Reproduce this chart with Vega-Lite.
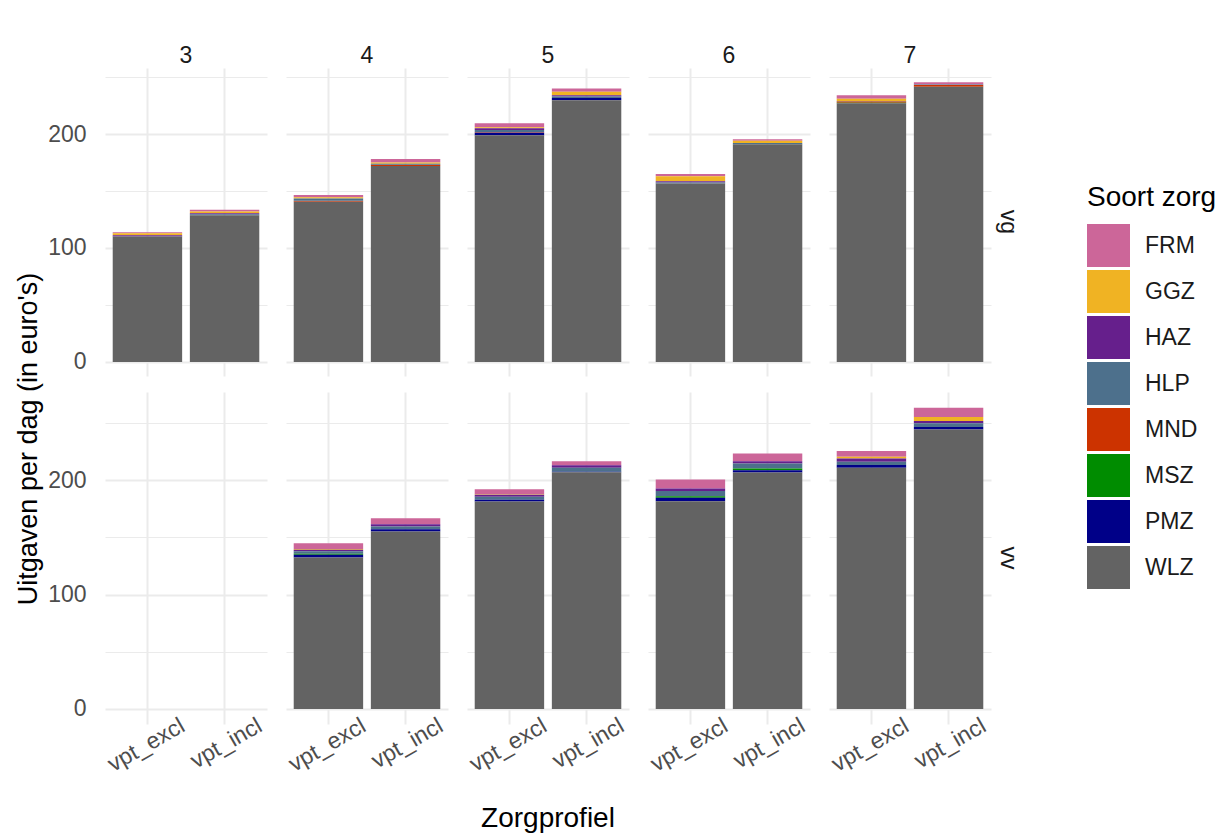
{
  "$schema": "https://vega.github.io/schema/vega-lite/v6.json",
  "background": "white",
  "padding": {"left": 14, "top": 45, "right": 5, "bottom": 5},
  "config": {
    "font": "Liberation Sans",
    "view": {"stroke": null},
    "axis": {"labelFont": "Liberation Sans", "titleFont": "Liberation Sans"}
  },
  "title": {"text": "Uitgaven per dag (in euro's)", "orient": "left", "anchor": "middle", "fontSize": 27, "fontWeight": "normal", "color": "black", "font": "Liberation Sans", "offset": 5},
  "data": {"values": [
    {"zorgtype": "vg", "profiel": 3, "vpt": "vpt_excl", "zorg": "FRM", "waarde": 0.9},
    {"zorgtype": "vg", "profiel": 3, "vpt": "vpt_excl", "zorg": "GGZ", "waarde": 1.8},
    {"zorgtype": "vg", "profiel": 3, "vpt": "vpt_excl", "zorg": "HAZ", "waarde": 1.2},
    {"zorgtype": "vg", "profiel": 3, "vpt": "vpt_excl", "zorg": "WLZ", "waarde": 110},
    {"zorgtype": "vg", "profiel": 3, "vpt": "vpt_incl", "zorg": "FRM", "waarde": 1.5},
    {"zorgtype": "vg", "profiel": 3, "vpt": "vpt_incl", "zorg": "GGZ", "waarde": 1.5},
    {"zorgtype": "vg", "profiel": 3, "vpt": "vpt_incl", "zorg": "HAZ", "waarde": 0.8},
    {"zorgtype": "vg", "profiel": 3, "vpt": "vpt_incl", "zorg": "HLP", "waarde": 1},
    {"zorgtype": "vg", "profiel": 3, "vpt": "vpt_incl", "zorg": "WLZ", "waarde": 128.7},
    {"zorgtype": "vg", "profiel": 4, "vpt": "vpt_excl", "zorg": "FRM", "waarde": 2},
    {"zorgtype": "vg", "profiel": 4, "vpt": "vpt_excl", "zorg": "GGZ", "waarde": 1},
    {"zorgtype": "vg", "profiel": 4, "vpt": "vpt_excl", "zorg": "MND", "waarde": 1},
    {"zorgtype": "vg", "profiel": 4, "vpt": "vpt_excl", "zorg": "HLP", "waarde": 2},
    {"zorgtype": "vg", "profiel": 4, "vpt": "vpt_excl", "zorg": "WLZ", "waarde": 140.5},
    {"zorgtype": "vg", "profiel": 4, "vpt": "vpt_incl", "zorg": "FRM", "waarde": 3},
    {"zorgtype": "vg", "profiel": 4, "vpt": "vpt_incl", "zorg": "GGZ", "waarde": 1},
    {"zorgtype": "vg", "profiel": 4, "vpt": "vpt_incl", "zorg": "MND", "waarde": 1},
    {"zorgtype": "vg", "profiel": 4, "vpt": "vpt_incl", "zorg": "HLP", "waarde": 1},
    {"zorgtype": "vg", "profiel": 4, "vpt": "vpt_incl", "zorg": "WLZ", "waarde": 172},
    {"zorgtype": "vg", "profiel": 5, "vpt": "vpt_excl", "zorg": "FRM", "waarde": 3.5},
    {"zorgtype": "vg", "profiel": 5, "vpt": "vpt_excl", "zorg": "GGZ", "waarde": 1},
    {"zorgtype": "vg", "profiel": 5, "vpt": "vpt_excl", "zorg": "HAZ", "waarde": 1.5},
    {"zorgtype": "vg", "profiel": 5, "vpt": "vpt_excl", "zorg": "HLP", "waarde": 2},
    {"zorgtype": "vg", "profiel": 5, "vpt": "vpt_excl", "zorg": "MND", "waarde": 0.5},
    {"zorgtype": "vg", "profiel": 5, "vpt": "vpt_excl", "zorg": "PMZ", "waarde": 2},
    {"zorgtype": "vg", "profiel": 5, "vpt": "vpt_excl", "zorg": "WLZ", "waarde": 199},
    {"zorgtype": "vg", "profiel": 5, "vpt": "vpt_incl", "zorg": "FRM", "waarde": 3},
    {"zorgtype": "vg", "profiel": 5, "vpt": "vpt_incl", "zorg": "GGZ", "waarde": 3},
    {"zorgtype": "vg", "profiel": 5, "vpt": "vpt_incl", "zorg": "HAZ", "waarde": 1},
    {"zorgtype": "vg", "profiel": 5, "vpt": "vpt_incl", "zorg": "HLP", "waarde": 1.5},
    {"zorgtype": "vg", "profiel": 5, "vpt": "vpt_incl", "zorg": "PMZ", "waarde": 2},
    {"zorgtype": "vg", "profiel": 5, "vpt": "vpt_incl", "zorg": "WLZ", "waarde": 229.5},
    {"zorgtype": "vg", "profiel": 6, "vpt": "vpt_excl", "zorg": "FRM", "waarde": 2},
    {"zorgtype": "vg", "profiel": 6, "vpt": "vpt_excl", "zorg": "GGZ", "waarde": 4.5},
    {"zorgtype": "vg", "profiel": 6, "vpt": "vpt_excl", "zorg": "HAZ", "waarde": 1},
    {"zorgtype": "vg", "profiel": 6, "vpt": "vpt_excl", "zorg": "HLP", "waarde": 1},
    {"zorgtype": "vg", "profiel": 6, "vpt": "vpt_excl", "zorg": "WLZ", "waarde": 156.5},
    {"zorgtype": "vg", "profiel": 6, "vpt": "vpt_incl", "zorg": "FRM", "waarde": 1.5},
    {"zorgtype": "vg", "profiel": 6, "vpt": "vpt_incl", "zorg": "GGZ", "waarde": 2},
    {"zorgtype": "vg", "profiel": 6, "vpt": "vpt_incl", "zorg": "HLP", "waarde": 1},
    {"zorgtype": "vg", "profiel": 6, "vpt": "vpt_incl", "zorg": "WLZ", "waarde": 191},
    {"zorgtype": "vg", "profiel": 7, "vpt": "vpt_excl", "zorg": "FRM", "waarde": 3},
    {"zorgtype": "vg", "profiel": 7, "vpt": "vpt_excl", "zorg": "GGZ", "waarde": 2},
    {"zorgtype": "vg", "profiel": 7, "vpt": "vpt_excl", "zorg": "HLP", "waarde": 0.5},
    {"zorgtype": "vg", "profiel": 7, "vpt": "vpt_excl", "zorg": "MND", "waarde": 1},
    {"zorgtype": "vg", "profiel": 7, "vpt": "vpt_excl", "zorg": "MSZ", "waarde": 0.5},
    {"zorgtype": "vg", "profiel": 7, "vpt": "vpt_excl", "zorg": "WLZ", "waarde": 227},
    {"zorgtype": "vg", "profiel": 7, "vpt": "vpt_incl", "zorg": "FRM", "waarde": 2},
    {"zorgtype": "vg", "profiel": 7, "vpt": "vpt_incl", "zorg": "HLP", "waarde": 0.5},
    {"zorgtype": "vg", "profiel": 7, "vpt": "vpt_incl", "zorg": "MND", "waarde": 1.5},
    {"zorgtype": "vg", "profiel": 7, "vpt": "vpt_incl", "zorg": "WLZ", "waarde": 241.5},
    {"zorgtype": "vv", "profiel": 3, "vpt": "vpt_excl", "zorg": "WLZ", "waarde": 0},
    {"zorgtype": "vv", "profiel": 3, "vpt": "vpt_incl", "zorg": "WLZ", "waarde": 0},
    {"zorgtype": "vv", "profiel": 4, "vpt": "vpt_excl", "zorg": "FRM", "waarde": 5.2},
    {"zorgtype": "vv", "profiel": 4, "vpt": "vpt_excl", "zorg": "GGZ", "waarde": 0.5},
    {"zorgtype": "vv", "profiel": 4, "vpt": "vpt_excl", "zorg": "HAZ", "waarde": 1.5},
    {"zorgtype": "vv", "profiel": 4, "vpt": "vpt_excl", "zorg": "HLP", "waarde": 2},
    {"zorgtype": "vv", "profiel": 4, "vpt": "vpt_excl", "zorg": "MSZ", "waarde": 1},
    {"zorgtype": "vv", "profiel": 4, "vpt": "vpt_excl", "zorg": "PMZ", "waarde": 2.3},
    {"zorgtype": "vv", "profiel": 4, "vpt": "vpt_excl", "zorg": "WLZ", "waarde": 132.5},
    {"zorgtype": "vv", "profiel": 4, "vpt": "vpt_incl", "zorg": "FRM", "waarde": 5.2},
    {"zorgtype": "vv", "profiel": 4, "vpt": "vpt_incl", "zorg": "HAZ", "waarde": 2},
    {"zorgtype": "vv", "profiel": 4, "vpt": "vpt_incl", "zorg": "HLP", "waarde": 2.3},
    {"zorgtype": "vv", "profiel": 4, "vpt": "vpt_incl", "zorg": "PMZ", "waarde": 2},
    {"zorgtype": "vv", "profiel": 4, "vpt": "vpt_incl", "zorg": "WLZ", "waarde": 155.2},
    {"zorgtype": "vv", "profiel": 5, "vpt": "vpt_excl", "zorg": "FRM", "waarde": 4.4},
    {"zorgtype": "vv", "profiel": 5, "vpt": "vpt_excl", "zorg": "GGZ", "waarde": 0.5},
    {"zorgtype": "vv", "profiel": 5, "vpt": "vpt_excl", "zorg": "HAZ", "waarde": 1.7},
    {"zorgtype": "vv", "profiel": 5, "vpt": "vpt_excl", "zorg": "HLP", "waarde": 2.6},
    {"zorgtype": "vv", "profiel": 5, "vpt": "vpt_excl", "zorg": "PMZ", "waarde": 1.5},
    {"zorgtype": "vv", "profiel": 5, "vpt": "vpt_excl", "zorg": "WLZ", "waarde": 181.5},
    {"zorgtype": "vv", "profiel": 5, "vpt": "vpt_incl", "zorg": "FRM", "waarde": 3.5},
    {"zorgtype": "vv", "profiel": 5, "vpt": "vpt_incl", "zorg": "HAZ", "waarde": 2.3},
    {"zorgtype": "vv", "profiel": 5, "vpt": "vpt_incl", "zorg": "HLP", "waarde": 3.5},
    {"zorgtype": "vv", "profiel": 5, "vpt": "vpt_incl", "zorg": "PMZ", "waarde": 0.5},
    {"zorgtype": "vv", "profiel": 5, "vpt": "vpt_incl", "zorg": "WLZ", "waarde": 206.9},
    {"zorgtype": "vv", "profiel": 6, "vpt": "vpt_excl", "zorg": "FRM", "waarde": 7.9},
    {"zorgtype": "vv", "profiel": 6, "vpt": "vpt_excl", "zorg": "HAZ", "waarde": 2.3},
    {"zorgtype": "vv", "profiel": 6, "vpt": "vpt_excl", "zorg": "HLP", "waarde": 4.4},
    {"zorgtype": "vv", "profiel": 6, "vpt": "vpt_excl", "zorg": "MSZ", "waarde": 1.5},
    {"zorgtype": "vv", "profiel": 6, "vpt": "vpt_excl", "zorg": "PMZ", "waarde": 2.9},
    {"zorgtype": "vv", "profiel": 6, "vpt": "vpt_excl", "zorg": "WLZ", "waarde": 181.7},
    {"zorgtype": "vv", "profiel": 6, "vpt": "vpt_incl", "zorg": "FRM", "waarde": 6.7},
    {"zorgtype": "vv", "profiel": 6, "vpt": "vpt_incl", "zorg": "HAZ", "waarde": 2},
    {"zorgtype": "vv", "profiel": 6, "vpt": "vpt_incl", "zorg": "HLP", "waarde": 4.4},
    {"zorgtype": "vv", "profiel": 6, "vpt": "vpt_incl", "zorg": "MSZ", "waarde": 1.5},
    {"zorgtype": "vv", "profiel": 6, "vpt": "vpt_incl", "zorg": "PMZ", "waarde": 2},
    {"zorgtype": "vv", "profiel": 6, "vpt": "vpt_incl", "zorg": "WLZ", "waarde": 206.7},
    {"zorgtype": "vv", "profiel": 7, "vpt": "vpt_excl", "zorg": "FRM", "waarde": 5},
    {"zorgtype": "vv", "profiel": 7, "vpt": "vpt_excl", "zorg": "GGZ", "waarde": 1.5},
    {"zorgtype": "vv", "profiel": 7, "vpt": "vpt_excl", "zorg": "HAZ", "waarde": 2.9},
    {"zorgtype": "vv", "profiel": 7, "vpt": "vpt_excl", "zorg": "HLP", "waarde": 2.9},
    {"zorgtype": "vv", "profiel": 7, "vpt": "vpt_excl", "zorg": "PMZ", "waarde": 2.3},
    {"zorgtype": "vv", "profiel": 7, "vpt": "vpt_excl", "zorg": "WLZ", "waarde": 211},
    {"zorgtype": "vv", "profiel": 7, "vpt": "vpt_incl", "zorg": "FRM", "waarde": 8.2},
    {"zorgtype": "vv", "profiel": 7, "vpt": "vpt_incl", "zorg": "GGZ", "waarde": 3.5},
    {"zorgtype": "vv", "profiel": 7, "vpt": "vpt_incl", "zorg": "HAZ", "waarde": 2},
    {"zorgtype": "vv", "profiel": 7, "vpt": "vpt_incl", "zorg": "HLP", "waarde": 3.2},
    {"zorgtype": "vv", "profiel": 7, "vpt": "vpt_incl", "zorg": "PMZ", "waarde": 2.3},
    {"zorgtype": "vv", "profiel": 7, "vpt": "vpt_incl", "zorg": "WLZ", "waarde": 244.3}
  ]},
  "spacing": 16,
  "resolve": {"scale": {"y": "independent", "x": "independent", "color": "shared"}, "legend": {"color": "shared"}},
  "vconcat": [
    {
      "transform": [{"filter": "datum.zorgtype === 'vg'"}],
      "facet": {
        "row": {"field": "zorgtype", "type": "nominal", "header": {"title": null, "labelOrient": "right", "labelAngle": 90, "labelFontSize": 23, "labelColor": "#1a1a1a", "labelPadding": 5, "labelFont": "Liberation Sans"}},
        "column": {"field": "profiel", "type": "ordinal", "header": {"title": null, "labelFontSize": 23, "labelColor": "#1a1a1a", "labelPadding": 0, "labelFont": "Liberation Sans"}}
      },
      "spacing": {"column": 19},
      "spec": {
        "width": 162,
        "height": 308,
        "mark": {"type": "bar"},
        "encoding": {
          "x": {"field": "vpt", "type": "nominal", "title": null,
            "scale": {"paddingInner": 0.1, "paddingOuter": 0.1},
            "axis": {"labels": false, "ticks": false, "domain": false, "grid": true, "bandPosition": 0.5, "gridColor": "#EBEBEB", "gridWidth": 2}},
          "y": {"field": "waarde", "type": "quantitative", "stack": "zero", "title": null,
            "scale": {"domain": [-12.3, 257.9], "nice": false, "zero": false},
            "axis": {"values": [0, 50, 100, 150, 200, 250], "labelExpr": "datum.value % 100 === 0 ? datum.label : ''", "grid": true, "gridColor": "#EBEBEB", "gridWidth": {"condition": {"test": "datum.value % 100 === 0", "value": 2}, "value": 1.2}, "domain": false, "ticks": false, "labelFontSize": 23, "labelColor": "#4d4d4d", "labelPadding": 19}},
          "color": {"field": "zorg", "type": "nominal",
            "scale": {"domain": ["FRM", "GGZ", "HAZ", "HLP", "MND", "MSZ", "PMZ", "WLZ"], "range": ["#CC6699", "#F0B323", "#661F8C", "#4D708C", "#CC3300", "#008C00", "#000088", "#636363"]},
            "legend": {"title": "Soort zorg", "orient": "none", "legendX": 982, "legendY": 116, "titleFontSize": 28, "titleFontWeight": "normal", "titleColor": "black", "titleFont": "Liberation Sans", "titlePadding": 12, "labelFontSize": 23, "labelColor": "#1a1a1a", "labelFont": "Liberation Sans", "labelOffset": 15, "symbolType": "square", "symbolSize": 1849, "symbolStrokeWidth": 0, "rowPadding": 3}},
          "order": {"field": "zorg", "sort": "descending"}
        }
      }
    },
    {
      "transform": [{"filter": "datum.zorgtype === 'vv'"}],
      "facet": {
        "row": {"field": "zorgtype", "type": "nominal", "header": {"title": null, "labelOrient": "right", "labelAngle": 90, "labelFontSize": 23, "labelColor": "#1a1a1a", "labelPadding": 5, "labelFont": "Liberation Sans"}},
        "column": {"field": "profiel", "type": "ordinal", "title": "Zorgprofiel", "header": {"titleOrient": "bottom", "labels": false, "titleFontSize": 28, "titleFontWeight": "normal", "titleColor": "black", "titleFont": "Liberation Sans", "titlePadding": 18}}
      },
      "spacing": {"column": 19},
      "spec": {
        "width": 162,
        "height": 332,
        "mark": {"type": "bar"},
        "encoding": {
          "x": {"field": "vpt", "type": "nominal", "title": null,
            "scale": {"paddingInner": 0.1, "paddingOuter": 0.1},
            "axis": {"labelAngle": -30, "labelAlign": "right", "labelBaseline": "top", "labelOffset": 30, "labelFontSize": 23, "labelColor": "#4d4d4d", "labelPadding": -10, "ticks": false, "domain": false, "grid": true, "bandPosition": 0.5, "gridColor": "#EBEBEB", "gridWidth": 2}},
          "y": {"field": "waarde", "type": "quantitative", "stack": "zero", "title": null,
            "scale": {"domain": [-13.2, 277.2], "nice": false, "zero": false},
            "axis": {"values": [0, 50, 100, 150, 200, 250], "labelExpr": "datum.value % 100 === 0 ? datum.label : ''", "grid": true, "gridColor": "#EBEBEB", "gridWidth": {"condition": {"test": "datum.value % 100 === 0", "value": 2}, "value": 1.2}, "domain": false, "ticks": false, "labelFontSize": 23, "labelColor": "#4d4d4d", "labelPadding": 19}},
          "color": {"field": "zorg", "type": "nominal",
            "scale": {"domain": ["FRM", "GGZ", "HAZ", "HLP", "MND", "MSZ", "PMZ", "WLZ"], "range": ["#CC6699", "#F0B323", "#661F8C", "#4D708C", "#CC3300", "#008C00", "#000088", "#636363"]},
            "legend": {"title": "Soort zorg", "orient": "none", "legendX": 982, "legendY": 116, "titleFontSize": 28, "titleFontWeight": "normal", "titleColor": "black", "titleFont": "Liberation Sans", "titlePadding": 12, "labelFontSize": 23, "labelColor": "#1a1a1a", "labelFont": "Liberation Sans", "labelOffset": 15, "symbolType": "square", "symbolSize": 1849, "symbolStrokeWidth": 0, "rowPadding": 3}},
          "order": {"field": "zorg", "sort": "descending"}
        }
      }
    }
  ]
}
